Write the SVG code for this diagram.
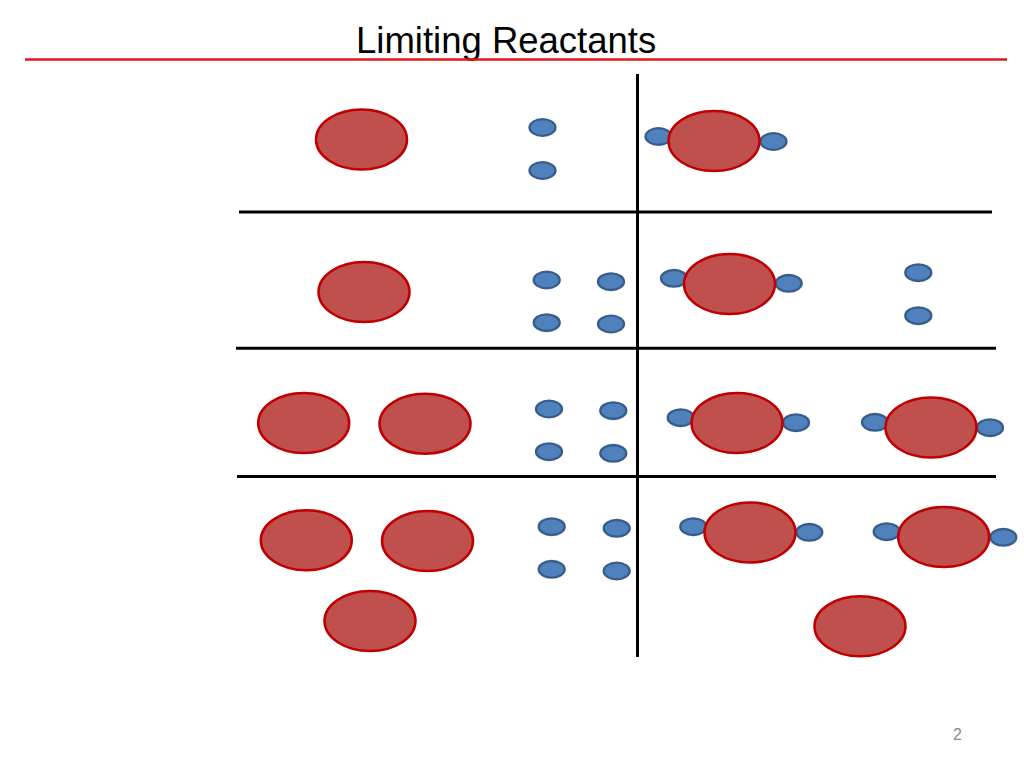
<svg xmlns="http://www.w3.org/2000/svg" width="1024" height="768" viewBox="0 0 1024 768">
<style>
.big{fill:#C0504D;stroke:#C00000;stroke-width:2.5}
.sm{fill:#4F81BD;stroke:#385D8A;stroke-width:2.3}
.ln{stroke:#000;stroke-width:3;fill:none}
.title{font-family:"Liberation Sans",Arial,sans-serif;font-size:36.5px;fill:#000}
.pg{font-family:"Liberation Sans",Arial,sans-serif;font-size:16px;fill:#898989}
</style>
<rect width="1024" height="768" fill="#fff"/>
<text class="title" x="356" y="53">Limiting Reactants</text>
<line x1="25" y1="59.5" x2="1007" y2="59.5" stroke="#E3161B" stroke-width="2.5"/>
<g id="grid">
<line class="ln" x1="637.5" y1="74" x2="637.5" y2="657"/>
<line class="ln" x1="239" y1="212" x2="992" y2="212"/>
<line class="ln" x1="236" y1="348.3" x2="996" y2="348.3"/>
<line class="ln" x1="237" y1="476.5" x2="996" y2="476.5"/>
</g>
<g id="row1">
<ellipse class="big" cx="361.5" cy="139.5" rx="45.5" ry="30"/>
<ellipse class="sm" cx="542.5" cy="127.5" rx="13" ry="8.3"/>
<ellipse class="sm" cx="542.5" cy="170.5" rx="13" ry="8.3"/>
<g id="r1m1">
<ellipse class="sm" cx="658.5" cy="136.5" rx="13" ry="8.3"/>
<ellipse class="sm" cx="773.5" cy="141.5" rx="13" ry="8.3"/>
<ellipse class="big" cx="714" cy="141" rx="45.5" ry="30"/>
</g>
</g>
<g id="row2">
<ellipse class="big" cx="364" cy="292" rx="45.5" ry="30"/>
<ellipse class="sm" cx="546.7" cy="280" rx="13" ry="8.3"/>
<ellipse class="sm" cx="611" cy="281.7" rx="13" ry="8.3"/>
<ellipse class="sm" cx="546.7" cy="322.7" rx="13" ry="8.3"/>
<ellipse class="sm" cx="611" cy="324" rx="13" ry="8.3"/>
<g id="r2m1">
<ellipse class="sm" cx="674" cy="278.3" rx="13" ry="8.3"/>
<ellipse class="sm" cx="788.7" cy="283.3" rx="13" ry="8.3"/>
<ellipse class="big" cx="729.5" cy="284" rx="45.5" ry="30"/>
</g>
<ellipse class="sm" cx="918.3" cy="272.7" rx="13" ry="8.3"/>
<ellipse class="sm" cx="918.3" cy="315.7" rx="13" ry="8.3"/>
</g>
<g id="row3">
<ellipse class="big" cx="303.7" cy="423" rx="45.5" ry="30"/>
<ellipse class="big" cx="425" cy="423.7" rx="45.5" ry="30"/>
<ellipse class="sm" cx="549" cy="409" rx="13" ry="8.3"/>
<ellipse class="sm" cx="613.3" cy="410.7" rx="13" ry="8.3"/>
<ellipse class="sm" cx="549" cy="451.7" rx="13" ry="8.3"/>
<ellipse class="sm" cx="613.3" cy="453.3" rx="13" ry="8.3"/>
<g id="r3m1">
<ellipse class="sm" cx="680.7" cy="417.7" rx="13" ry="8.3"/>
<ellipse class="sm" cx="796" cy="422.7" rx="13" ry="8.3"/>
<ellipse class="big" cx="737" cy="423" rx="45.5" ry="30"/>
</g>
<g id="r3m2">
<ellipse class="sm" cx="875" cy="422.3" rx="13" ry="8.3"/>
<ellipse class="sm" cx="990" cy="427.7" rx="13" ry="8.3"/>
<ellipse class="big" cx="931" cy="427.5" rx="45.5" ry="30"/>
</g>
</g>
<g id="row4">
<ellipse class="big" cx="306.3" cy="540.3" rx="45.5" ry="30"/>
<ellipse class="big" cx="427.5" cy="541" rx="45.5" ry="30"/>
<ellipse class="big" cx="370" cy="621" rx="45.5" ry="30"/>
<ellipse class="sm" cx="551.7" cy="526.7" rx="13" ry="8.3"/>
<ellipse class="sm" cx="616.7" cy="528.3" rx="13" ry="8.3"/>
<ellipse class="sm" cx="551.7" cy="569.3" rx="13" ry="8.3"/>
<ellipse class="sm" cx="616.7" cy="571" rx="13" ry="8.3"/>
<g id="r4m1">
<ellipse class="sm" cx="693.3" cy="526.7" rx="13" ry="8.3"/>
<ellipse class="sm" cx="809.3" cy="532.3" rx="13" ry="8.3"/>
<ellipse class="big" cx="750" cy="532.5" rx="45.5" ry="30"/>
</g>
<g id="r4m2">
<ellipse class="sm" cx="886.7" cy="531.7" rx="13" ry="8.3"/>
<ellipse class="sm" cx="1003.3" cy="537.3" rx="13" ry="8.3"/>
<ellipse class="big" cx="943.7" cy="537" rx="45.5" ry="30"/>
</g>
<ellipse class="big" cx="860" cy="626.3" rx="45.5" ry="30"/>
</g>
<text class="pg" x="953" y="740">2</text>
</svg>
